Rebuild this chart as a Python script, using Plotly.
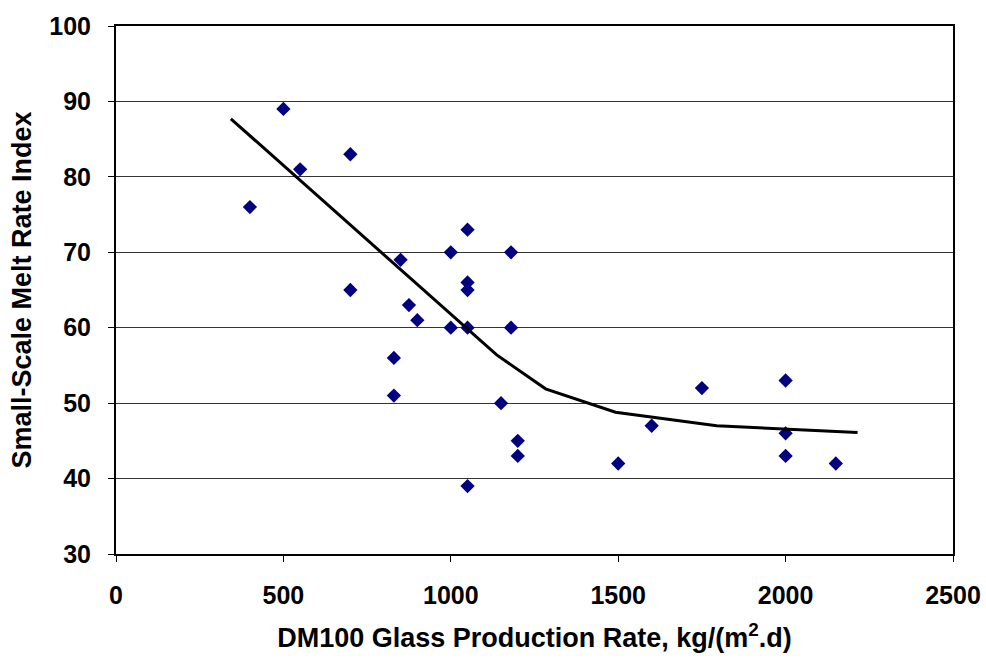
import plotly.graph_objects as go

# Scatter data
rate_x = [400, 500, 550, 700, 700, 850, 830, 830, 875, 900, 1000, 1000, 1050, 1050, 1050,
          1050, 1050, 1180, 1180, 1150, 1200, 1200, 1500, 1600, 1750, 2000, 2000, 2000, 2150]
index_y = [76, 89, 81, 83, 65, 69, 56, 51, 63, 61, 70, 60, 73, 66, 65,
           60, 39, 70, 60, 50, 45, 43, 42, 47, 52, 53, 46, 43, 42]

# Trend line vertices
trend_x = [343, 1137, 1283, 1492, 1794, 2215]
trend_y = [87.7, 56.4, 51.9, 48.8, 47.0, 46.1]

x_ticks = [0, 500, 1000, 1500, 2000, 2500]
y_ticks = [30, 40, 50, 60, 70, 80, 90, 100]

fig = go.Figure()
fig.add_trace(go.Scatter(
    x=rate_x, y=index_y, mode="markers",
    marker=dict(symbol="diamond", size=11, color="#000080", line=dict(width=0)),
    showlegend=False, hoverinfo="x+y"))
fig.add_trace(go.Scatter(
    x=trend_x, y=trend_y, mode="lines",
    line=dict(color="black", width=3),
    showlegend=False, hoverinfo="skip"))

font_family = "Liberation Sans, Arial, sans-serif"

fig.update_layout(
    width=986, height=658,
    margin=dict(l=116, r=33, t=26, b=104, autoexpand=False),
    paper_bgcolor="white", plot_bgcolor="white",
    font=dict(family=font_family, color="black"),
    xaxis=dict(
        range=[0, 2500], tickvals=x_ticks, ticktext=[str(v) for v in x_ticks],
        showgrid=False, zeroline=False, automargin=False,
        showline=True, linecolor="black", linewidth=2, mirror=True,
        ticks="outside", ticklen=6, tickwidth=1, tickcolor="black",
        tickfont=dict(size=25, family=font_family, color="black", weight="bold"),
        ticklabelstandoff=12,
        title=dict(text="<b>DM100 Glass Production Rate, kg/(m<sup>2</sup>.d)</b>",
                   font=dict(size=27, family=font_family, color="black"), standoff=20),
    ),
    yaxis=dict(
        range=[30, 100], tickvals=y_ticks, ticktext=[str(v) for v in y_ticks],
        showgrid=True, gridcolor="#333333", gridwidth=1, zeroline=False, automargin=False,
        showline=True, linecolor="black", linewidth=2, mirror=True,
        ticks="outside", ticklen=6, tickwidth=1, tickcolor="black",
        tickfont=dict(size=25, family=font_family, color="black", weight="bold"),
        ticklabelstandoff=12,
        title=dict(text="<b>Small-Scale Melt Rate Index</b>",
                   font=dict(size=27, family=font_family, color="black"), standoff=10),
    ),
)

fig.write_html("out.html", config={"displayModeBar": False},
               post_script="document.body.style.margin='0';document.body.style.padding='0';")
